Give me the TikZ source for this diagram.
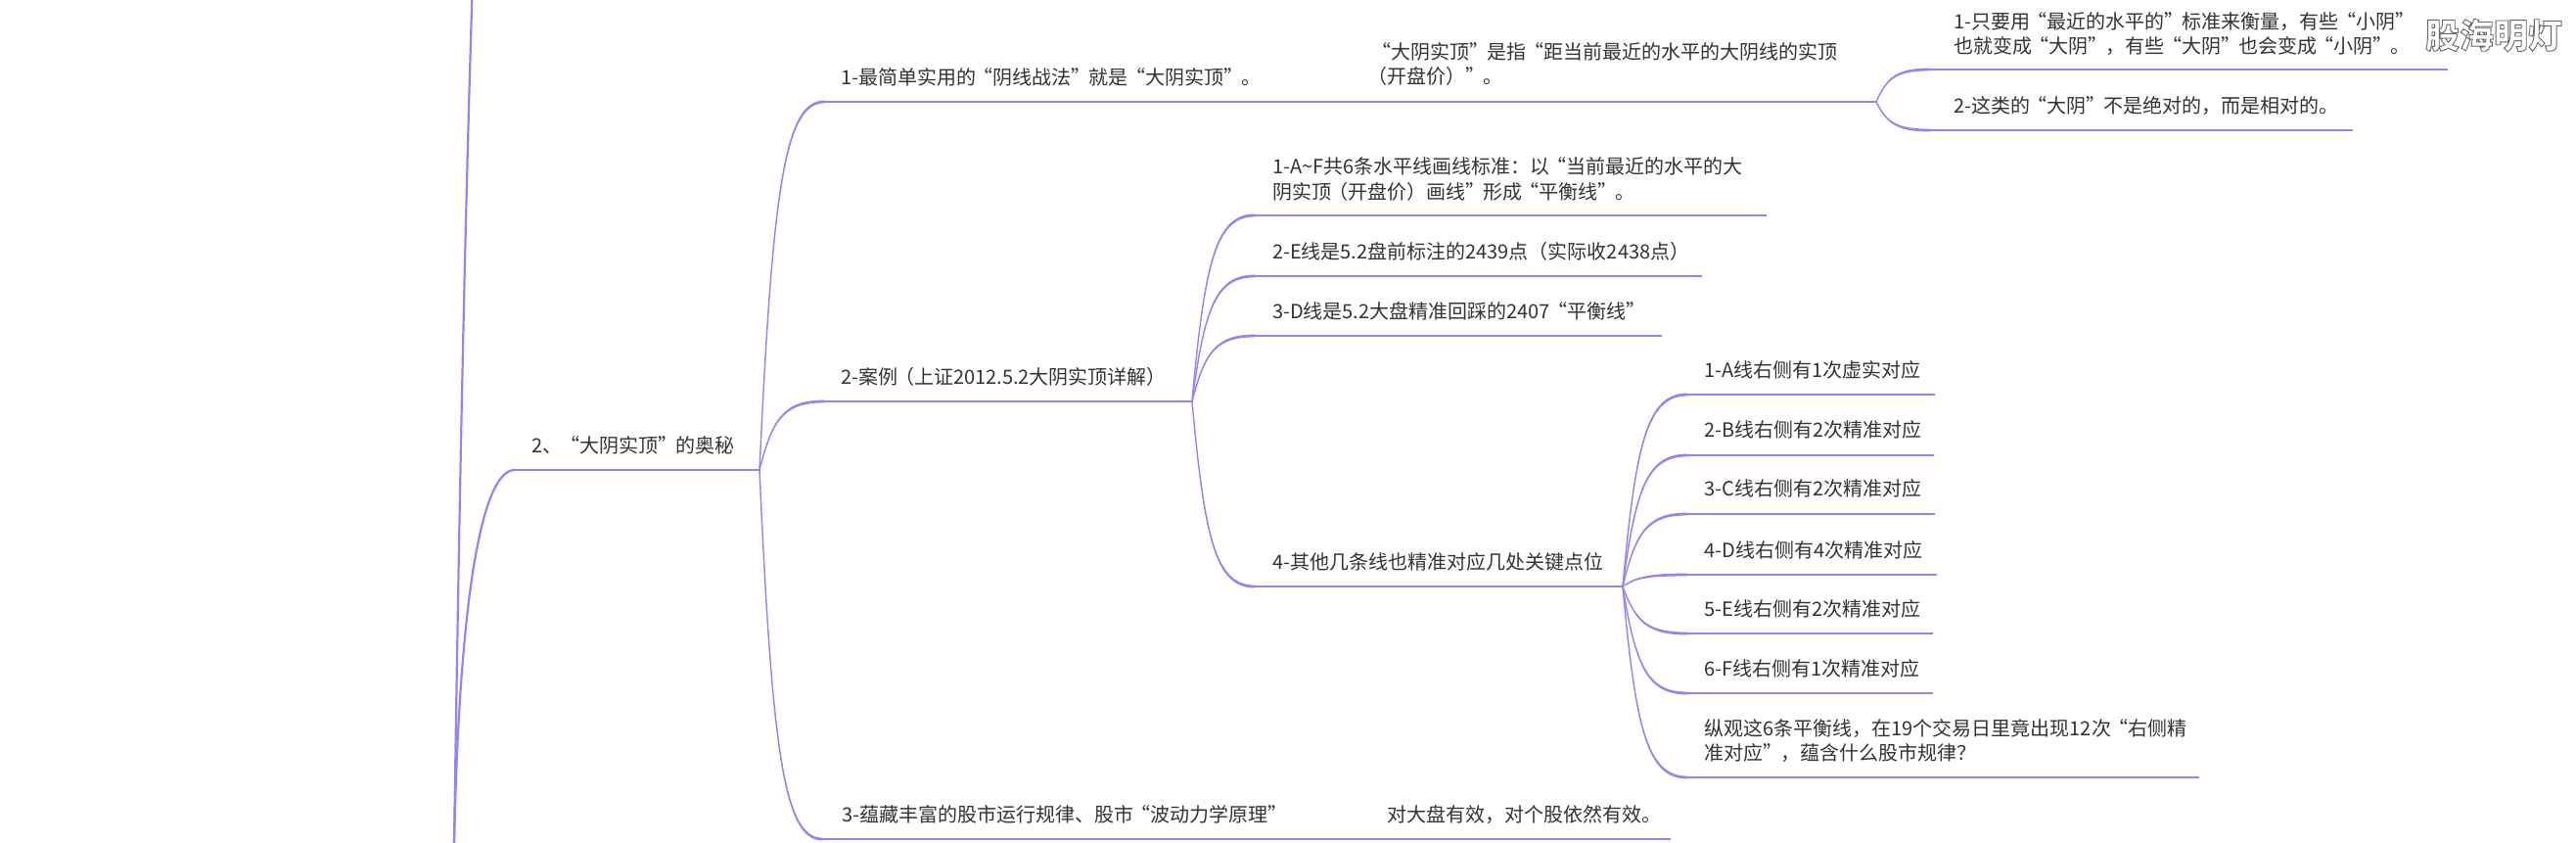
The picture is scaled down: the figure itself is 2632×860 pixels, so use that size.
\documentclass[tikz,border=0pt]{standalone}
\usepackage{fontspec}
\setmainfont{Noto Sans CJK SC}
\usetikzlibrary{calc}
\definecolor{branch}{HTML}{9683F0}
\definecolor{ink}{HTML}{333333}
\newcommand\QL{\kern-2.5pt“}
\newcommand\QR{”\kern-2pt }
\newcommand\PL{\kern-3pt（}
\newcommand\PS{\kern-7pt（}
\tikzset{
  lab/.style={anchor=west,inner sep=0pt,outer sep=0pt,align=left,text=ink,font=\fontsize{20pt}{25.7pt}\selectfont},
  under/.style={draw=branch,line width=2.6pt,line cap=butt},
  conn/.style={draw=branch,fill=branch,line width=1.4pt,line join=round},
  trunk/.style={draw=branch,line width=2.2pt},
  wm/.style={inner sep=0pt,anchor=center,font=\fontsize{35pt}{36pt}\selectfont\bfseries}
}
% tapered branch curve from junction #1 to line start #2
\newcommand\twig[2]{%
  \path[conn] let \p1=(#1),\p2=(#2) in
   (\p1) .. controls (\x1+0.2*\x2-0.2*\x1, \y1+0.75*\y2-0.75*\y1) and (\x1+0.38*\x2-0.38*\x1,\y2+0.7pt) .. (\x2,\y2+0.7pt)
   -- (\x2,\y2-0.7pt) .. controls (\x1+0.38*\x2-0.38*\x1,\y2-0.7pt) and (\x1+0.2*\x2-0.2*\x1, \y1+0.75*\y2-0.75*\y1) .. (\p1) -- cycle;}
\begin{document}
\begin{tikzpicture}[x=1pt,y=-1pt]
\useasboundingbox (0,0) rectangle (2632,860);
\fill[white] (0,0) rectangle (2632,860);

% junctions and line ends
\coordinate (rootA) at (464,862);
\coordinate (rootTop) at (482.3,-2);
\coordinate (s2) at (526,480);   \coordinate (j2) at (776,480);
\coordinate (a1s) at (842,104);  \coordinate (a1m) at (1303,104); \coordinate (a1j) at (1917,104);
\coordinate (b1s) at (1972,71);  \coordinate (b1e) at (2501,71);
\coordinate (b2s) at (1972,133); \coordinate (b2e) at (2404,133);
\coordinate (a2s) at (842,410);  \coordinate (a2j) at (1218,410);
\coordinate (c1s) at (1282,220); \coordinate (c1e) at (1805,220);
\coordinate (c2s) at (1282,282); \coordinate (c2e) at (1739,282);
\coordinate (c3s) at (1282,343); \coordinate (c3e) at (1698,343);
\coordinate (c4s) at (1282,599); \coordinate (c4j) at (1658,599);
\coordinate (d1s) at (1724,403); \coordinate (d1e) at (1977,403);
\coordinate (d2s) at (1724,465); \coordinate (d2e) at (1976,465);
\coordinate (d3s) at (1724,525); \coordinate (d3e) at (1977,525);
\coordinate (d4s) at (1724,587); \coordinate (d4e) at (1979,587);
\coordinate (d5s) at (1724,647); \coordinate (d5e) at (1975,647);
\coordinate (d6s) at (1724,708); \coordinate (d6e) at (1975,708);
\coordinate (d7s) at (1724,794); \coordinate (d7e) at (2247,794);
\coordinate (a3s) at (840,857);  \coordinate (a3m) at (1323,857); \coordinate (a3e) at (1707,857);

% trunk
\draw[trunk] (rootA) .. controls (468,600) and (473,300) .. (rootTop);
\draw[trunk] (rootA) .. controls (470,590) and (495,480) .. (s2);

% horizontal rules
\foreach \u/\v in {s2/j2,a1s/a1m,a1m/a1j,b1s/b1e,b2s/b2e,a2s/a2j,c1s/c1e,c2s/c2e,c3s/c3e,c4s/c4j,
  d1s/d1e,d2s/d2e,d3s/d3e,d4s/d4e,d5s/d5e,d6s/d6e,d7s/d7e,a3s/a3m,a3m/a3e}
  \draw[under] (\u) -- (\v);

% tapered branches
\twig{j2}{a1s}\twig{j2}{a2s}\twig{j2}{a3s}
\twig{a1j}{b1s}\twig{a1j}{b2s}
\twig{a2j}{c1s}\twig{a2j}{c2s}\twig{a2j}{c3s}\twig{a2j}{c4s}
\twig{c4j}{d1s}\twig{c4j}{d2s}\twig{c4j}{d3s}\twig{c4j}{d4s}\twig{c4j}{d5s}\twig{c4j}{d6s}\twig{c4j}{d7s}

% labels
\node[lab] (n2) at (543.5,455) {2、\QL 大阴实顶\QR 的奥秘};
\node[lab] (na1) at (859,79) {1-最简单实用的\QL 阴线战法\QR 就是\QL 大阴实顶\QR 。};
\node[lab] (na2) at (859,385) {2-案例\PL 上证2012.5.2大阴实顶详解）};
\node[lab] (na3) at (860,832) {3-蕴藏丰富的股市运行规律、股市\QL 波动力学原理\QR};
\node[lab] (na1b) at (1404,65.5) {\QL 大阴实顶\QR 是指\QL 距当前最近的水平的大阴线的实顶\\\PS 开盘价）\QR 。};
\node[lab] (nb1) at (1996,34.5) {1-只要用\QL 最近的水平的\QR 标准来衡量，有些\QL 小阴\QR\\也就变成\QL 大阴\QR ，有些\QL 大阴\QR 也会变成\QL 小阴\QR 。};
\node[lab] (nb2) at (1996,108) {2-这类的\QL 大阴\QR 不是绝对的，而是相对的。};
\node[lab] (nc1) at (1300,183) {1-A\textasciitilde F共6条水平线画线标准：以\QL 当前最近的水平的大\\阴实顶\PL 开盘价）画线\QR 形成\QL 平衡线\QR 。};
\node[lab] (nc2) at (1300,256.5) {2-E线是5.2盘前标注的2439点（实际收2438点）};
\node[lab] (nc3) at (1300,318) {3-D线是5.2大盘精准回踩的2407\QL 平衡线\QR};
\node[lab] (nc4) at (1300,574) {4-其他几条线也精准对应几处关键点位};
\node[lab] (nd1) at (1741.5,377.5) {1-A线右侧有1次虚实对应};
\node[lab] (nd2) at (1741.5,439) {2-B线右侧有2次精准对应};
\node[lab] (nd3) at (1741.5,499) {3-C线右侧有2次精准对应};
\node[lab] (nd4) at (1741.5,561.5) {4-D线右侧有4次精准对应};
\node[lab] (nd5) at (1741.5,621.5) {5-E线右侧有2次精准对应};
\node[lab] (nd6) at (1741.5,682.5) {6-F线右侧有1次精准对应};
\node[lab] (nd7) at (1741.5,756.5) {纵观这6条平衡线，在19个交易日里竟出现12次\QL 右侧精\\准对应\QR ，蕴含什么股市规律？};
\node[lab] (na3b) at (1417,832.5) {对大盘有效，对个股依然有效。};

% watermark (outlined text)
\node[wm] (mark) at (2548,36) {\special{pdf:code 2 Tr 0.9 w 0.4 0.4 0.4 RG 1 1 1 rg}股海明灯\special{pdf:code 0 Tr 0 0 0 rg}};
\end{tikzpicture}
\end{document}
